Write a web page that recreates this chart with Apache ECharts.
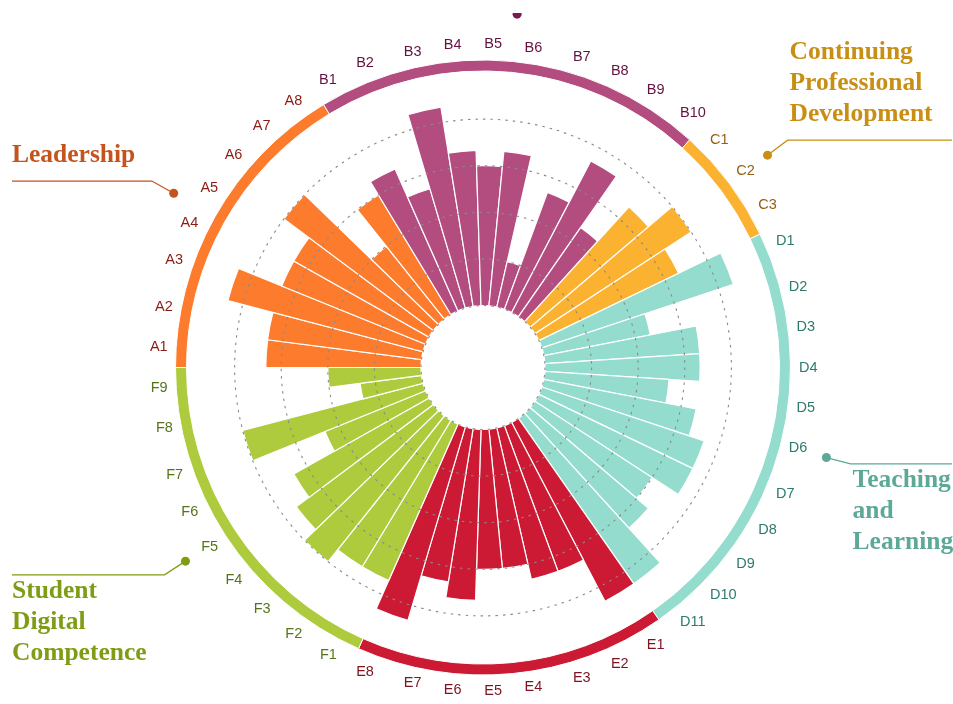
<!DOCTYPE html>
<html>
<head>
<meta charset="utf-8">
<script src="https://cdn.jsdelivr.net/npm/echarts@6/dist/echarts.min.js"></script>
<style>
html,body{margin:0;padding:0;background:#fff;}
#chart{width:953px;height:704px;}
</style>
</head>
<body>
<div id="chart"></div>
<script>
// ---- data ----
const categories = [
  'A1','A2','A3','A4','A5','A6','A7','A8',
  'B1','B2','B3','B4','B5','B6','B7','B8','B9','B10',
  'C1','C2','C3',
  'D1','D2','D3','D4','D5','D6','D7','D8','D9','D10','D11',
  'E1','E2','E3','E4','E5','E6','E7','E8',
  'F1','F2','F3','F4','F5','F6','F7','F8','F9'
];
const scoresA = [3.33, 3.33, 4.33, 3.33, 3.33, 4.00, 2.00, 3.00];
const scoresB = [3.33, 2.67, 4.33, 3.33, 3.00, 3.33, 1.00, 2.67, 3.67, 2.33];
const scoresC = [3.33, 4.00, 3.33];
const scoresD = [4.33, 2.33, 3.33, 3.33, 2.67, 3.33, 3.67, 3.67, 3.00, 3.33, 4.33];
const scoresE = [4.33, 3.33, 3.33, 3.00, 3.00, 3.67, 3.33, 4.33];
const scoresF = [3.67, 3.67, 4.00, 3.67, 3.33, 2.33, 4.00, 1.33, 2.00];
const groupCodes = ['A','B','C','D','E','F'];
const groupNames = ['Leadership', '', 'Continuing\nProfessional\nDevelopment', 'Teaching\nand\nLearning', '', 'Student\nDigital\nCompetence'];
const radiusTicks = [0, 1, 2, 3, 4, 5];

// ---- style ----
const barColors   = {A:'#fd7b2c', B:'#b34d80', C:'#fbb230', D:'#94ddce', E:'#cc1a35', F:'#aecb3d'};
const labelColors = {A:'#8b1c13', B:'#631341', C:'#955f10', D:'#2e7a6f', E:'#7c1421', F:'#56751a'};
const titleColors = {A:'#c4531c', B:'#7a1a52', C:'#c98f14', D:'#5ea898', E:'#9a1a2a', F:'#7f9c14'};

const groupScores = [scoresA, scoresB, scoresC, scoresD, scoresE, scoresF];
const groupSizes = groupScores.map(s => s.length);
const barData = [];
groupScores.forEach((s, gi) => {
  s.forEach(v => barData.push({value: v, itemStyle: {color: barColors[groupCodes[gi]]}}));
});
let acc = 0;
const groupMarks = groupSizes.map((n, gi) => { const mid = acc + n / 2; acc += n; return [1, mid, gi]; });
const total = acc;

const cx = 483, cy = 367.5;
const labelFont = '"Liberation Sans", Arial, sans-serif';
const rich = {};
groupCodes.forEach(g => { rich[g] = {color: labelColors[g], fontSize: 14.5, fontFamily: labelFont}; });

const chart = echarts.init(document.getElementById('chart'));
chart.setOption({
  animation: false,
  backgroundColor: '#fff',
  polar: [
    {center: [cx, cy], radius: [62, 295]},
    {center: [cx, cy], radius: [0, 355]}
  ],
  angleAxis: [
    {
      polarIndex: 0, type: 'category', data: categories,
      startAngle: 180, clockwise: true, boundaryGap: true,
      axisLine: {show: false}, axisTick: {show: false}, splitLine: {show: false},
      axisLabel: {
        interval: 0,
        margin: 21,
        fontSize: 14.5,
        fontFamily: labelFont,
        hideOverlap: false,
        formatter: v => '{' + v.charAt(0) + '|' + v + '}',
        rich: rich
      }
    },
    {polarIndex: 1, type: 'value', min: 0, max: total, startAngle: 180, clockwise: true, show: false}
  ],
  radiusAxis: [
    {
      polarIndex: 0, type: 'value', min: radiusTicks[0], max: radiusTicks[radiusTicks.length - 1], interval: 1,
      z: 5,
      axisLine: {show: false}, axisTick: {show: false}, axisLabel: {show: false},
      splitLine: {show: true, lineStyle: {color: ['#8a8a8a','#8a8a8a','#8a8a8a','#8a8a8a','#8a8a8a','rgba(0,0,0,0)'], width: 1.1, type: [2.5, 5]}}
    },
    {polarIndex: 1, type: 'value', min: 0, max: 1, show: false}
  ],
  series: [
    {
      type: 'bar', coordinateSystem: 'polar', polarIndex: 0,
      data: barData, barCategoryGap: '0%',
      itemStyle: {borderColor: '#ffffff', borderWidth: 1.2},
      silent: true
    },
    {
      type: 'pie', center: [cx, cy], radius: [296.5, 307.5],
      startAngle: 180, clockwise: true, silent: true,
      label: {show: false}, labelLine: {show: false},
      itemStyle: {borderColor: '#ffffff', borderWidth: 1},
      data: groupSizes.map((n, gi) => ({value: n, name: groupCodes[gi], itemStyle: {color: barColors[groupCodes[gi]]}}))
    },
    {
      type: 'custom', coordinateSystem: 'polar', polarIndex: 1,
      encode: {radius: 0, angle: 1},
      data: groupMarks, silent: true, z: 6,
      renderItem: function (params, api) {
        const gi = api.value(2);
        const code = groupCodes[gi];
        const color = titleColors[code];
        const name = groupNames[gi];
        const p = api.coord([api.value(0), api.value(1)]);
        const cs = params.coordSys;
        const dx = p[0] - cs.cx, dy = p[1] - cs.cy;
        const len = Math.sqrt(dx * dx + dy * dy);
        const e = [p[0] + dx / len * 25, p[1] + dy / len * 25];
        const left = dx < 0;
        const endX = left ? 12 : 952;
        const children = [
          {type: 'polyline', shape: {points: [p, e, [endX, e[1]]]}, style: {stroke: color, lineWidth: 1.3, fill: null}},
          {type: 'circle', shape: {cx: p[0], cy: p[1], r: 4.5}, style: {fill: color}}
        ];
        if (name) {
          children.push({
            type: 'text',
            style: {
              text: name,
              x: left ? endX : e[0] + 2,
              y: dy < 0 ? e[1] - 10 : e[1] + 1,
              align: 'left',
              verticalAlign: dy < 0 ? 'bottom' : 'top',
              fill: color,
              fontSize: 25.5, fontWeight: 'bold',
              fontFamily: '"Liberation Serif", "Times New Roman", serif',
              lineHeight: 31
            }
          });
        }
        return {type: 'group', children: children};
      }
    }
  ],
  graphic: [
    {type: 'rect', left: 0, top: 0, z: 100, shape: {width: 953, height: 13}, style: {fill: '#ffffff'}}
  ]
});
</script>
</body>
</html>
